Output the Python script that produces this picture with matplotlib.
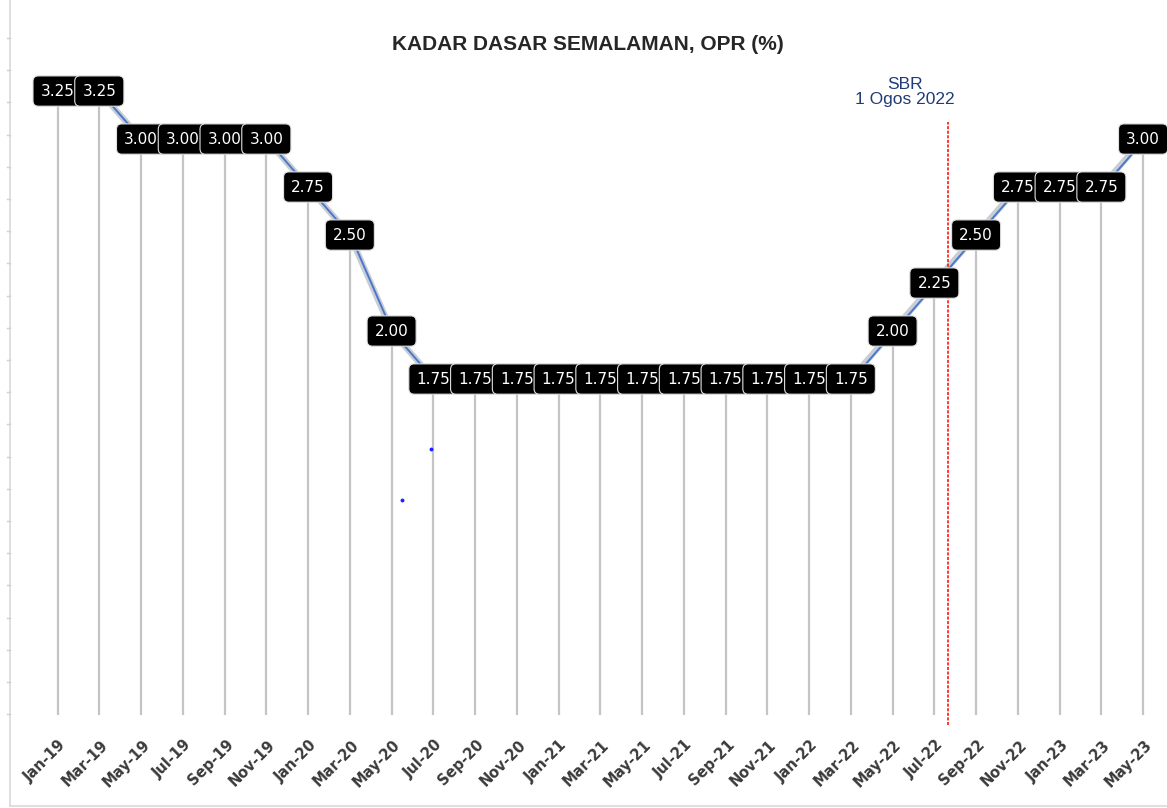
import matplotlib
matplotlib.use("Agg")
import matplotlib.pyplot as plt
import matplotlib.transforms as mtransforms
from matplotlib.lines import Line2D

# ---- data ----
months = ["Jan-19", "Mar-19", "May-19", "Jul-19", "Sep-19", "Nov-19",
          "Jan-20", "Mar-20", "May-20", "Jul-20", "Sep-20", "Nov-20",
          "Jan-21", "Mar-21", "May-21", "Jul-21", "Sep-21", "Nov-21",
          "Jan-22", "Mar-22", "May-22", "Jul-22", "Sep-22", "Nov-22",
          "Jan-23", "Mar-23", "May-23"]
opr = [3.25, 3.25, 3.00, 3.00, 3.00, 3.00, 2.75, 2.50, 2.00,
       1.75, 1.75, 1.75, 1.75, 1.75, 1.75, 1.75, 1.75, 1.75, 1.75, 1.75,
       2.00, 2.25, 2.50, 2.75, 2.75, 2.75, 3.00]
sbr_pos = 21.33          # 1 Ogos 2022, between Jul-22 and Sep-22
sbr_label = "SBR\n1 Ogos 2022"
stray_x = [8.25, 8.94]   # small stray blue dots in the original
stray_y = [1.12, 1.385]
title = "KADAR DASAR SEMALAMAN, OPR (%)"

W, H = 1167, 808
fig = plt.figure(figsize=(W / 100, H / 100), dpi=100)

def fx(x):
    return x / W

def fy(y):
    return 1 - y / H

# axes placement (pixels): x from 20 to 1164, y from 30 to 715
ax = fig.add_axes([fx(20), fy(715), fx(1164) - fx(20), fy(30) - fy(715)])
x = list(range(len(months)))
ax.set_xlim(-0.9, len(months) - 0.5)
ax.set_ylim(0, 3.568)

# drop lines
ax.vlines(x, 0, opr, colors="#c4c4c4", lw=1.6, zorder=1)

# line series (grey shadow + blue line)
ax.plot(x, opr, color="#c9cdd6", lw=4.5, zorder=2, solid_capstyle="round")
off = mtransforms.offset_copy(ax.transData, fig=fig, x=1.0, y=-1.0, units="dots")
ax.plot(x, opr, color="#4a78c8", lw=1.4, zorder=3, transform=off)

# data labels
for xi, v in zip(x, opr):
    ax.text(xi, v, f"{v:.2f}", ha="center", va="center", color="white",
            fontsize=11, family="DejaVu Sans", zorder=5,
            bbox=dict(boxstyle="round,pad=0.5,rounding_size=0.35",
                      fc="black", ec="#e0e0e0", lw=0.8))

# SBR line
ax.plot([sbr_pos, sbr_pos], [-0.05, 3.09], color="red", lw=1.1,
        linestyle=(0, (2, 1)), zorder=4, clip_on=False)
ax.text(20.3, 3.165, sbr_label, ha="center", va="bottom", color="#1f3b78",
        fontsize=12.5, family="Liberation Sans", linespacing=1.0)

# stray dots
ax.plot(stray_x, stray_y, linestyle="none", marker="o", ms=1.8,
        color="#2020ff", zorder=3)

# axes styling
for s in ax.spines.values():
    s.set_visible(False)
ax.set_yticks([])
ax.set_xticks(x)
ax.set_xticklabels(months, rotation=45, ha="right", va="top",
                   rotation_mode="anchor", fontsize=10.5, fontweight="bold",
                   color="#3a3a3a", family="DejaVu Sans")
ax.tick_params(axis="x", length=0, pad=16)
# shift tick labels slightly right so they end under their ticks
for lbl in ax.get_xticklabels():
    lbl.set_transform(lbl.get_transform() +
                      mtransforms.ScaledTranslation(1 / 100, 0, fig.dpi_scale_trans))

# title
fig.text(fx(588), fy(44), title, ha="center", va="center",
         fontsize=15, fontweight="bold", color="#262626", family="Liberation Sans")

# frame lines at left and bottom of the picture
fig.add_artist(Line2D([fx(10), fx(10)], [fy(0), fy(806)], color="#d9d9d9", lw=1.2))
fig.add_artist(Line2D([fx(10), fx(1167)], [fy(806), fy(806)], color="#d9d9d9", lw=1.2))
for k in range(22):
    yy = 38 + k * 32.2
    fig.add_artist(Line2D([fx(7), fx(10)], [fy(yy), fy(yy)], color="#d0d0d0", lw=1))

fig.savefig("out.png", dpi=100)
